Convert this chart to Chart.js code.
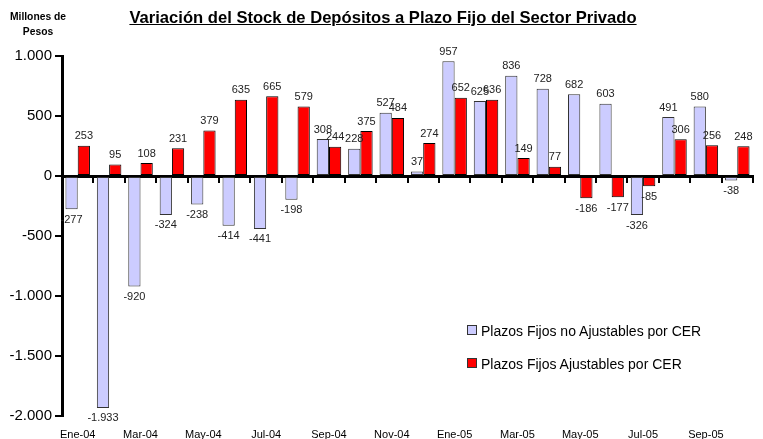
<!DOCTYPE html>
<html>
<head>
<meta charset="utf-8">
<script src="https://cdn.jsdelivr.net/npm/chart.js@4.4.1/dist/chart.umd.min.js"></script>
<style>
    html, body { margin: 0; padding: 0; background: #fff; }
    #wrap { position: relative; width: 763px; height: 439px; font-family: Arial, "Liberation Sans", sans-serif; }
    #chart { position: absolute; left: 0; top: 0; }
    .title { position: absolute; left: 0; width: 766px; top: 8px; text-align: center; font-size: 16.6px; font-weight: bold; text-decoration: underline; }
    .units { position: absolute; left: 6px; width: 64px; top: 9px; text-align: center; font-size: 10.3px; font-weight: bold; line-height: 15px; }
    .legend { position: absolute; left: 467px; top: 322px; font-size: 14px; }
    .legend div { height: 33px; line-height: 18px; }
    .legend span.box { display: inline-block; width: 8px; height: 8px; border: 1px solid #333; margin-right: 4px; vertical-align: 1px; }
</style>
</head>
<body>
<div id="wrap">
    <canvas id="chart" width="763" height="439"></canvas>
    <div class="title">Variación del Stock de Depósitos a Plazo Fijo del Sector Privado</div>
    <div class="units">Millones de<br>Pesos</div>
    <div class="legend">
        <div><span class="box" style="background:#ccccff"></span>Plazos Fijos no Ajustables por CER</div>
        <div><span class="box" style="background:#ff0000"></span>Plazos Fijos Ajustables por CER</div>
    </div>
</div>
<script>
// Meses (etiquetas del eje)
const months = ['Ene-04', 'Feb-04', 'Mar-04', 'Abr-04', 'May-04', 'Jun-04', 'Jul-04', 'Ago-04',
    'Sep-04', 'Oct-04', 'Nov-04', 'Dic-04', 'Ene-05', 'Feb-05', 'Mar-05', 'Abr-05',
    'May-05', 'Jun-05', 'Jul-05', 'Ago-05', 'Sep-05', 'Oct-05'];

// Variación mensual (millones de pesos)
const noAjustables = [-277, -1933, -920, -324, -238, -414, -441, -198, 308, 228, 527, 37,
    957, 625, 836, 728, 682, 603, -326, 491, 580, -38];
const ajustables = [253, 95, 108, 231, 379, 635, 665, 579, 244, 375, 484, 274,
    652, 636, 149, 77, -186, -177, -85, 306, 256, 248];

const yTicks = [1000, 500, 0, -500, -1000, -1500, -2000];

function fmt(v) {
    const s = Math.abs(v).toString().replace(/\B(?=(\d{3})+(?!\d))/g, '.');
    return (v < 0 ? '-' : '') + s;
}

// Etiquetas de valor sobre/debajo de cada barra
const valueLabels = {
    id: 'valueLabels',
    afterDatasetsDraw(chart) {
        const ctx = chart.ctx;
        ctx.save();
        ctx.font = '11px Arial, "Liberation Sans", sans-serif';
        ctx.fillStyle = '#222';
        ctx.textAlign = 'center';
        chart.data.datasets.forEach((ds, i) => {
            chart.getDatasetMeta(i).data.forEach((bar, j) => {
                const v = ds.data[j];
                if (v >= 0) {
                    ctx.textBaseline = 'bottom';
                    ctx.fillText(fmt(v), bar.x, bar.y - 4);
                } else {
                    ctx.textBaseline = 'top';
                    ctx.fillText(fmt(v), bar.x, bar.y + 5);
                }
            });
        });
        ctx.restore();
    }
};

const ctx = document.getElementById('chart').getContext('2d');
new Chart(ctx, {
    type: 'bar',
    data: {
        labels: months,
        datasets: [
            {
                label: 'Plazos Fijos no Ajustables por CER',
                data: noAjustables,
                backgroundColor: '#ccccff',
                borderColor: '#333333',
                borderWidth: 1,
                borderSkipped: false,
                categoryPercentage: 0.78,
                barPercentage: 1.0
            },
            {
                label: 'Plazos Fijos Ajustables por CER',
                data: ajustables,
                backgroundColor: '#ff0000',
                borderColor: '#000000',
                borderWidth: 1,
                borderSkipped: false,
                categoryPercentage: 0.78,
                barPercentage: 1.0
            }
        ]
    },
    options: {
        responsive: false,
        animation: false,
        layout: { padding: { top: 56, right: 10, left: 0, bottom: 0 } },
        plugins: {
            legend: { display: false },
            tooltip: { enabled: false }
        },
        scales: {
            x: {
                position: { y: 0 },
                offset: true,
                grid: { offset: true, drawOnChartArea: false, drawTicks: true, tickLength: 5, color: '#000', lineWidth: 2 },
                border: { display: true, color: '#000', width: 3 },
                ticks: { display: false },
                afterFit(scale) { scale.height = 0; }
            },
            x2: {
                type: 'category',
                position: 'bottom',
                offset: true,
                grid: { display: false },
                border: { display: false },
                ticks: {
                    autoSkip: false,
                    maxRotation: 0,
                    padding: 4,
                    color: '#000',
                    font: { family: 'Arial, "Liberation Sans", sans-serif', size: 11 },
                    callback: function(v, i) { return i % 2 === 0 ? this.getLabelForValue(v) : ''; }
                },
                afterFit(scale) { scale.height = 23; }
            },
            y: {
                min: -2000,
                max: 1000,
                afterBuildTicks(scale) { scale.ticks = yTicks.map(v => ({ value: v })); },
                grid: { drawOnChartArea: false, drawTicks: true, tickLength: 7, color: '#000', lineWidth: 2 },
                border: { display: true, color: '#000', width: 3 },
                ticks: {
                    padding: 3,
                    color: '#000',
                    font: { family: 'Arial, "Liberation Sans", sans-serif', size: 15 },
                    callback: v => fmt(v)
                },
                afterFit(scale) { scale.width = 62; }
            }
        }
    },
    plugins: [valueLabels]
});
</script>
</body>
</html>
